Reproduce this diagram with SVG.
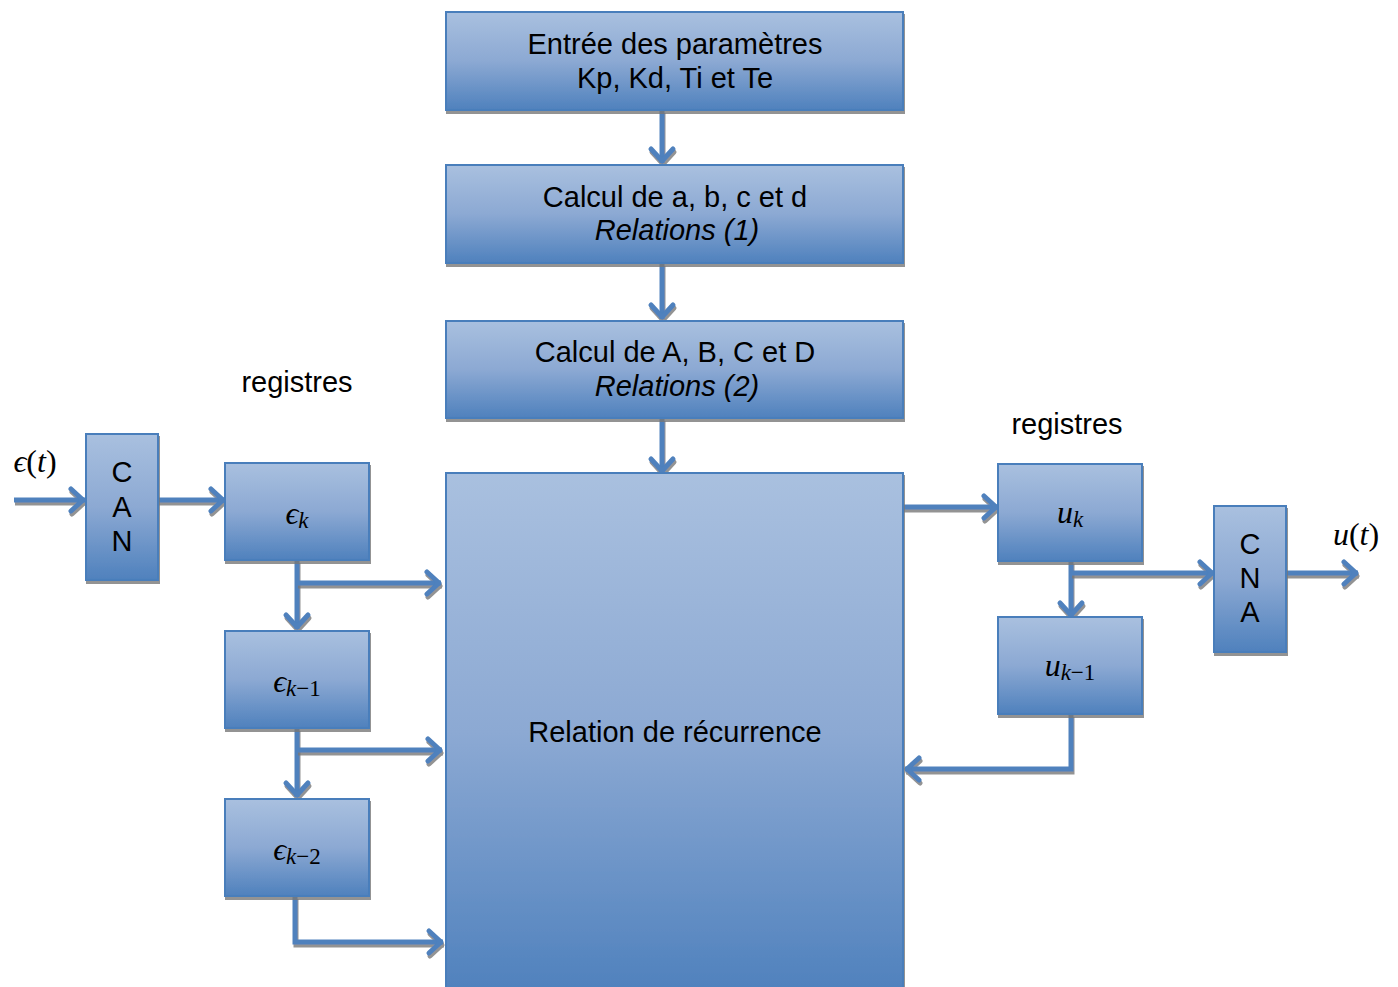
<svg xmlns="http://www.w3.org/2000/svg" width="1398" height="987" viewBox="0 0 1398 987">
<defs>
<linearGradient id="g" x1="0" y1="0" x2="0" y2="1">
<stop offset="0" stop-color="#a9c0df"/>
<stop offset="0.5" stop-color="#8ca9d3"/>
<stop offset="1" stop-color="#4f81bd"/>
</linearGradient>
<filter id="sh" filterUnits="userSpaceOnUse" x="0" y="0" width="1398" height="987">
<feDropShadow dx="1" dy="3" stdDeviation="0.6" flood-color="#777" flood-opacity="0.8"/>
</filter>
<marker id="ar" markerUnits="userSpaceOnUse" viewBox="-20 -16 24 32" refX="0" refY="0" markerWidth="24" markerHeight="32" orient="auto">
<path d="M-14,-11 L-2,0 L-14,11" fill="none" stroke="#4f81bd" stroke-width="5" stroke-linecap="round" stroke-linejoin="round"/>
</marker>
</defs>
<style>
.box{fill:url(#g);stroke:#4a7ebb;stroke-width:2;filter:url(#sh)}
.t{font-family:"Liberation Sans",Arial,sans-serif;font-size:29px;fill:#000;text-anchor:middle}
.it{font-style:italic}
.m{font-family:"Liberation Serif","DejaVu Serif",serif;font-style:italic;font-size:32px;fill:#000;text-anchor:middle}
.c{fill:none;stroke:#4f81bd;stroke-width:5;filter:url(#sh)}
</style>
<g id="connectors">
<path class="c" d="M662,110 V163" marker-end="url(#ar)"/>
<path class="c" d="M662,263 V319" marker-end="url(#ar)"/>
<path class="c" d="M662,418 V473" marker-end="url(#ar)"/>
<path class="c" d="M14,500 H85" marker-end="url(#ar)"/>
<path class="c" d="M158,500 H225" marker-end="url(#ar)"/>
<path class="c" d="M297,560 V629" marker-end="url(#ar)"/>
<path class="c" d="M297,583 H441" marker-end="url(#ar)"/>
<path class="c" d="M297,728 V797" marker-end="url(#ar)"/>
<path class="c" d="M297,750 H442" marker-end="url(#ar)"/>
<path class="c" d="M295,896 V942 H443" marker-end="url(#ar)"/>
<path class="c" d="M903,507 H998" marker-end="url(#ar)"/>
<path class="c" d="M1071,561 V617" marker-end="url(#ar)"/>
<path class="c" d="M1071,573 H1214" marker-end="url(#ar)"/>
<path class="c" d="M1286,573 H1358" marker-end="url(#ar)"/>
<path class="c" d="M1071,714 V769 H905" marker-end="url(#ar)"/>
</g>
<g id="n-params">
<rect class="box" x="446" y="12" width="457" height="98"/>
<text class="t" x="675" y="54">Entrée des paramètres</text>
<text class="t" x="675" y="88">Kp, Kd, Ti et Te</text>
</g>
<g id="n-abcd">
<rect class="box" x="446" y="165" width="457" height="98"/>
<text class="t" x="675" y="207">Calcul de a, b, c et d</text>
<text class="t it" x="677" y="240">Relations (1)</text>
</g>
<g id="n-ABCD">
<rect class="box" x="446" y="321" width="457" height="97"/>
<text class="t" x="675" y="362">Calcul de A, B, C et D</text>
<text class="t it" x="677" y="396">Relations (2)</text>
</g>
<g id="n-rec">
<rect class="box" x="446" y="473" width="457" height="520"/>
<text class="t" x="675" y="742">Relation de récurrence</text>
</g>
<g id="n-can">
<rect class="box" x="86" y="434" width="72" height="146"/>
<text class="t" x="122" y="482">C</text>
<text class="t" x="122" y="517">A</text>
<text class="t" x="122" y="551">N</text>
</g>
<g id="n-ek">
<rect class="box" x="225" y="463" width="144" height="97"/>
<text class="m" x="297" y="524">ϵ<tspan font-size="23" dy="4">k</tspan></text>
</g>
<g id="n-ek1">
<rect class="box" x="225" y="631" width="144" height="97"/>
<text class="m" x="297" y="692">ϵ<tspan font-size="23" dy="4">k<tspan font-style="normal">−1</tspan></tspan></text>
</g>
<g id="n-ek2">
<rect class="box" x="225" y="799" width="144" height="97"/>
<text class="m" x="297" y="860">ϵ<tspan font-size="23" dy="4">k<tspan font-style="normal">−2</tspan></tspan></text>
</g>
<g id="n-uk">
<rect class="box" x="998" y="464" width="144" height="97"/>
<text class="m" x="1070" y="523">u<tspan font-size="23" dy="4">k</tspan></text>
</g>
<g id="n-uk1">
<rect class="box" x="998" y="617" width="144" height="97"/>
<text class="m" x="1070" y="676">u<tspan font-size="23" dy="4">k<tspan font-style="normal">−1</tspan></tspan></text>
</g>
<g id="n-cna">
<rect class="box" x="1214" y="506" width="72" height="146"/>
<text class="t" x="1250" y="554">C</text>
<text class="t" x="1250" y="588">N</text>
<text class="t" x="1250" y="622">A</text>
</g>
<g id="labels">
<text class="t" x="297" y="392">registres</text>
<text class="t" x="1067" y="434">registres</text>
<text class="m" x="35" y="472">ϵ<tspan font-style="normal">(</tspan>t<tspan font-style="normal">)</tspan></text>
<text class="m" x="1356" y="545">u<tspan font-style="normal">(</tspan>t<tspan font-style="normal">)</tspan></text>
</g>
</svg>
